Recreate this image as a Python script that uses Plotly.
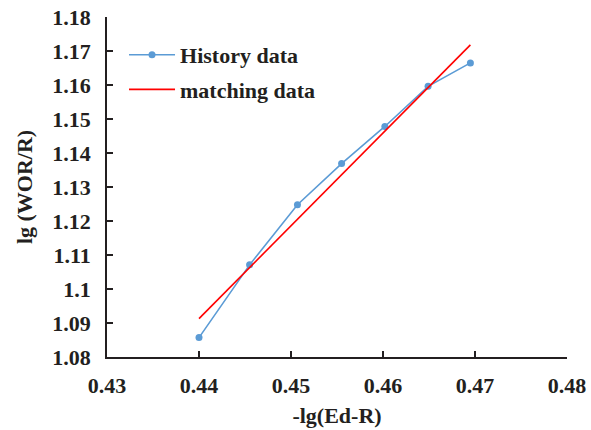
import plotly.graph_objects as go

hist_x = [0.4400, 0.4455, 0.4507, 0.4555, 0.4602, 0.4649, 0.4695]
hist_y = [1.0857, 1.1071, 1.1248, 1.1369, 1.1478, 1.1596, 1.1665]
match_x = [0.4400, 0.4695]
match_y = [1.0913, 1.1718]

x_ticks = [0.43, 0.44, 0.45, 0.46, 0.47, 0.48]
x_labels = ["0.43", "0.44", "0.45", "0.46", "0.47", "0.48"]
y_ticks = [1.08, 1.09, 1.10, 1.11, 1.12, 1.13, 1.14, 1.15, 1.16, 1.17, 1.18]
y_labels = ["1.08", "1.09", "1.1", "1.11", "1.12", "1.13", "1.14", "1.15", "1.16", "1.17", "1.18"]

font_fam = "Liberation Serif"
txt = "#231f20"
bold_font = dict(family=font_fam, size=22, color=txt, weight="bold")

fig = go.Figure()
fig.add_trace(go.Scatter(x=hist_x, y=hist_y, mode="lines+markers", name="History data",
                         legendgroup="a",
                         line=dict(color="#5B9BD5", width=1.6),
                         marker=dict(color="#5B9BD5", size=7)))
fig.add_trace(go.Scatter(x=match_x, y=match_y, mode="lines", name="matching data",
                         legendgroup="b",
                         line=dict(color="#FF0000", width=1.6)))

fig.update_layout(
    width=591, height=430,
    margin=dict(l=107, r=24, t=17, b=73),
    paper_bgcolor="white", plot_bgcolor="white",
    font=bold_font,
    showlegend=True,
    legend=dict(x=0.037, y=0.95, xanchor="left", yanchor="top",
                bgcolor="rgba(0,0,0,0)", font=bold_font,
                itemwidth=46, tracegroupgap=3),
    xaxis=dict(range=[0.43, 0.48], tickvals=x_ticks, ticktext=x_labels, automargin=False,
               showgrid=False, zeroline=False, showline=True, linecolor=txt, linewidth=1.5,
               ticks="inside", ticklen=6, tickwidth=1.5, tickcolor=txt,
               tickfont=bold_font, ticklabelstandoff=8,
               title=dict(text="-lg(Ed-R)", font=bold_font, standoff=10)),
    yaxis=dict(range=[1.08, 1.18], tickvals=y_ticks, ticktext=y_labels, automargin=False,
               showgrid=False, zeroline=False, showline=True, linecolor=txt, linewidth=1.5,
               ticks="inside", ticklen=6, tickwidth=1.5, tickcolor=txt,
               tickfont=bold_font, ticklabelstandoff=10,
               title=dict(text="lg (WOR/R)", font=bold_font, standoff=14)),
)

fig.write_html("out.html", config={"displayModeBar": False},
               post_script="document.body.style.margin='0px';document.body.style.overflow='hidden';")
